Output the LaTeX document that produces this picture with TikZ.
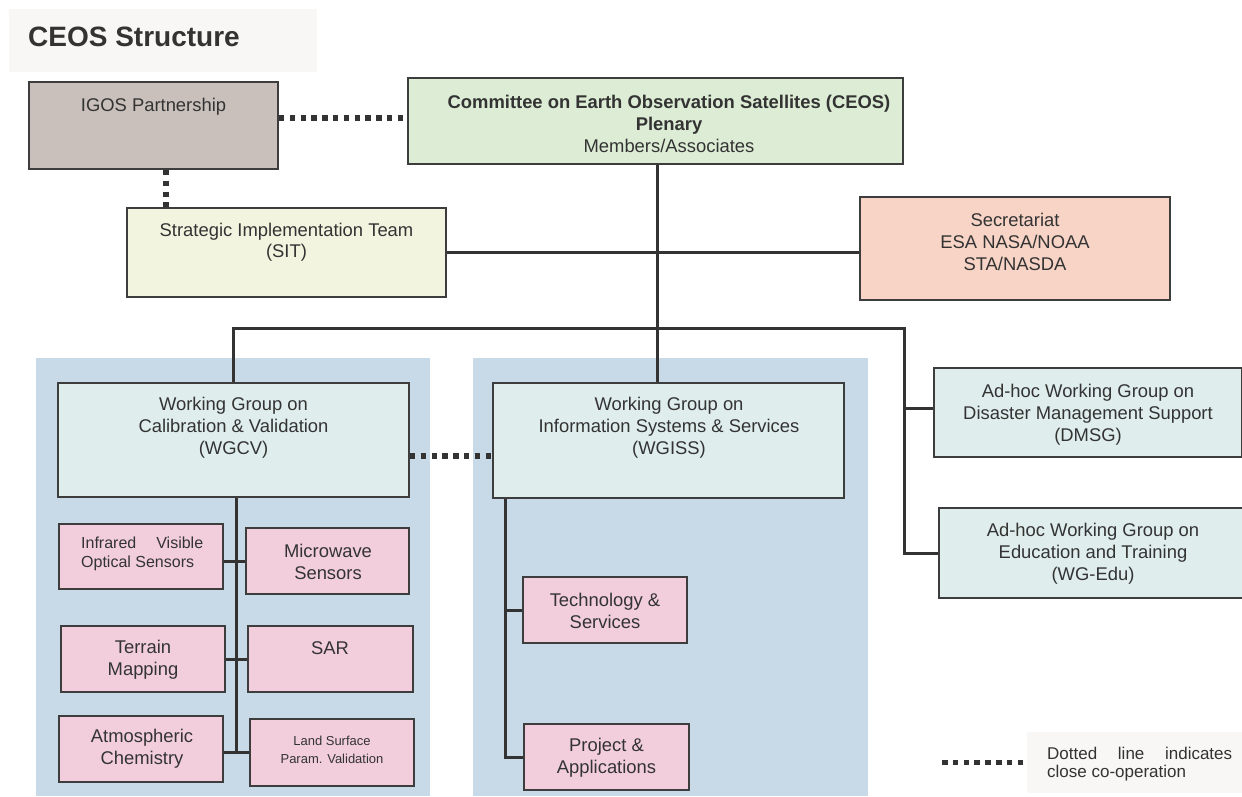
\documentclass[tikz,border=0pt]{standalone}
\usepackage{fontspec}
\setmainfont{Liberation Sans}
\usetikzlibrary{calc}
\definecolor{boxline}{HTML}{3D3D3D}
\definecolor{linec}{HTML}{333333}
\definecolor{txtc}{HTML}{333333}
\definecolor{igosc}{HTML}{C9C0BB}
\definecolor{ceosc}{HTML}{DDEDD5}
\definecolor{sitc}{HTML}{F2F4DF}
\definecolor{secc}{HTML}{F7D4C6}
\definecolor{wgc}{HTML}{DFEEEC}
\definecolor{pinkc}{HTML}{F2CEDC}
\definecolor{panelc}{HTML}{C8D9E8}
\definecolor{bgc}{HTML}{F8F7F5}
\begin{document}
\begin{tikzpicture}[x=1pt,y=-1pt,
  box/.style={draw=boxline, line width=1.8pt, rectangle, inner sep=0pt},
  txt/.style={inner sep=0pt, align=center, text=txtc, font=\fontsize{18.4}{22}\selectfont},
  conn/.style={draw=linec, line width=3pt},
  dotline/.style={draw=linec, line width=5.5pt, dash pattern=on 5.5pt off 5.3pt},
  panel/.style={fill=panelc, draw=none, rectangle, inner sep=0pt},
  pbox/.style={box, fill=pinkc, minimum width=164pt, minimum height=66pt}]
\useasboundingbox (0,0) rectangle (1242,796);
\fill[white] (0,0) rectangle (1242,796);
% backgrounds
\node[fill=bgc, rectangle, inner sep=0pt, minimum width=308pt, minimum height=63pt] (titlebg) at (163,40.5) {};
\node[anchor=base west, inner sep=0pt, text=txtc, font=\fontsize{28}{32}\selectfont\bfseries] (title) at (28,46) {CEOS Structure};
\node[panel, minimum width=394pt, minimum height=438pt] (pl) at (233,577) {};
\node[panel, minimum width=395pt, minimum height=438pt] (pr) at (670.5,577) {};
\node[fill=bgc, rectangle, inner sep=0pt, minimum width=215pt, minimum height=61pt] (legbg) at (1134.5,762.5) {};
% top boxes
\node[box, fill=igosc, minimum width=249pt, minimum height=87pt] (igos) at (153.5,125.5) {};
\node[txt] (igos-t) at (153.5,107) {IGOS Partnership};
\node[box, fill=ceosc, minimum width=495pt, minimum height=86pt] (ceos) at (655.5,121) {};
\node[txt] (ceos-t) at (669,124) {\textbf{Committee on Earth Observation Satellites (CEOS)}\\\textbf{Plenary}\\Members/Associates};
\node[box, fill=sitc, minimum width=319pt, minimum height=89pt] (sit) at (286.5,252.5) {};
\node[txt, font=\fontsize{18.4}{21}\selectfont] (sit-t) at (286.5,242.5) {Strategic Implementation Team\\(SIT)};
\node[box, fill=secc, minimum width=310pt, minimum height=103pt] (sec) at (1015,248.5) {};
\node[txt] (sec-t) at (1015,242) {Secretariat\\ESA NASA/NOAA\\STA/NASDA};
% working groups
\node[box, fill=wgc, minimum width=351pt, minimum height=114pt] (wgcv) at (233.5,440) {};
\node[txt] (wgcv-t) at (233.5,428) {Working Group on\\Calibration \& Validation\\(WGCV)};
\node[box, fill=wgc, minimum width=351pt, minimum height=115pt] (wgiss) at (668.5,440.5) {};
\node[txt] (wgiss-t) at (669,428) {Working Group on\\Information Systems \& Services\\(WGISS)};
\node[box, fill=wgc, minimum width=308pt, minimum height=89pt] (dmsg) at (1088,412.5) {};
\node[txt] (dmsg-t) at (1088,415) {Ad-hoc Working Group on\\Disaster Management Support\\(DMSG)};
\node[box, fill=wgc, minimum width=308pt, minimum height=90pt] (wgedu) at (1093,553) {};
\node[txt] (wgedu-t) at (1093,553.5) {Ad-hoc Working Group on\\Education and Training\\(WG-Edu)};
% WGCV sub-groups
\node[pbox, minimum height=65pt] (ir) at (141,556.5) {};
\node[txt, align=left, anchor=west, font=\fontsize{16}{18.7}\selectfont] (ir-t) at (81,554) {\makebox[122pt][s]{Infrared Visible}\\Optical Sensors};
\node[pbox, minimum width=163pt] (mw) at (327.5,561) {};
\node[txt] (mw-t) at (328,561.5) {Microwave\\Sensors};
\node[pbox] (tm) at (143,659) {};
\node[txt] (tm-t) at (143,659.5) {Terrain\\Mapping};
\node[pbox, minimum width=165pt] (sar) at (330.5,659) {};
\node[txt] (sar-t) at (330,648) {SAR};
\node[pbox] (atm) at (141,749) {};
\node[txt] (atm-t) at (142,749) {Atmospheric\\Chemistry};
\node[pbox, minimum height=67pt] (land) at (332,752.5) {};
\node[txt, font=\fontsize{13}{18}\selectfont] (land-t) at (332,750) {Land Surface\\Param. Validation};
% WGISS sub-groups
\node[pbox] (tech) at (605,610) {};
\node[txt] (tech-t) at (605,611) {Technology \&\\Services};
\node[pbox, minimum width=165pt] (proj) at (606.5,757) {};
\node[txt] (proj-t) at (606.5,758) {Project \&\\Applications};
% legend
\coordinate (lg1) at (942,762.5);
\node[txt, align=left, anchor=west, font=\fontsize{17}{18}\selectfont] (leg-t) at (1047,764) {\makebox[185pt][s]{Dotted line indicates}\\close co-operation};
% connectors
\draw[dotline] ([yshift=7.5pt]igos.east) -- ([yshift=7.5pt]igos.east -| ceos.west);
\draw[dotline] ([xshift=12.5pt]igos.south) -- ([xshift=12.5pt]igos.south |- sit.north);
\draw[conn] ([xshift=2pt]ceos.south) -- ([xshift=2pt]ceos.south |- wgiss.north);
\draw[conn] (sit.east) -- (sit.east -| sec.west);
\coordinate (busR) at (904,328);
\draw[conn] (wgcv.north) |- (busR) |- (wgedu.west);
\draw[conn] ([yshift=4.5pt]dmsg.west -| busR) -- ([yshift=4.5pt]dmsg.west);
\draw[dotline] ([yshift=-16pt]wgcv.east) -- ([yshift=-16pt]wgcv.east -| wgiss.west);
\draw[conn] ([xshift=2.5pt]wgcv.south) -- ([xshift=2.5pt]wgcv.south |- land.west);
\draw[conn] (ir.east |- mw.west) -- (mw.west);
\draw[conn] (tm.east) -- (sar.west);
\draw[conn] (atm.east |- land.west) -- (land.west);
\draw[conn] ([xshift=13pt]wgiss.south west) |- (proj.west);
\draw[conn] (tech.west) -- ([xshift=13pt]wgiss.south west |- tech.west);
\draw[dotline] (lg1) -- ([xshift=-4pt]legbg.west);
\end{tikzpicture}
\end{document}
